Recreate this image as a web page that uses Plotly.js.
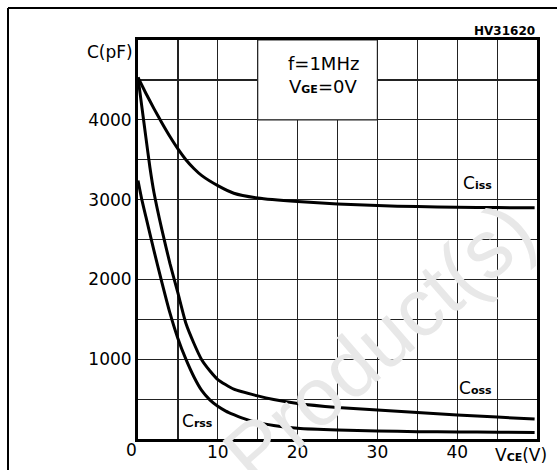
<!DOCTYPE html>
<html>
<head>
<meta charset="utf-8">
<script src="https://cdn.plot.ly/plotly-3.0.1.min.js"></script>
<style>
html,body{margin:0;padding:0;background:#fff;}
#chart{width:557px;height:470px;}
</style>
</head>
<body>
<div id="chart"></div>
<script>
// Data (VCE in V, capacitance in pF)
const cissV = [0, 1, 2, 3, 4, 5, 6, 7, 8, 10, 12, 15, 20, 25, 30, 35, 40, 45, 49.7];
const cissC = [4530, 4330, 4140, 3960, 3790, 3635, 3500, 3390, 3300, 3175, 3080, 3020, 2975, 2946, 2925, 2912, 2904, 2900, 2898];

const cossV = [0, 0.5, 1, 1.5, 2, 3, 4, 5, 6, 7, 8, 9, 10, 12, 15, 17, 20, 25, 30, 35, 40, 45, 49.7];
const cossC = [4530, 4150, 3770, 3400, 3090, 2620, 2200, 1830, 1450, 1200, 990, 855, 745, 625, 540, 495, 446, 396, 362, 333, 300, 275, 250];

const crssV = [0, 0.5, 1, 2, 3, 4, 5, 6, 7, 8, 9, 10, 11, 12, 13, 15, 17, 20, 25, 30, 35, 40, 45, 49.7];
const crssC = [3240, 2990, 2780, 2360, 1960, 1580, 1260, 1000, 780, 605, 490, 410, 350, 305, 265, 205, 170, 135, 112, 100, 92, 88, 85, 82];

const xTickVals = [0, 5, 10, 15, 20, 25, 30, 35, 40, 45, 50];
const xTickText = ['', '', '10', '', '20', '', '30', '', '40', '', ''];
const yTickVals = [0, 500, 1000, 1500, 2000, 2500, 3000, 3500, 4000, 4500, 5000];
const yTickText = ['', '', '1000', '', '2000', '', '3000', '', '4000', '', ''];

const FONT = 'DejaVu Sans, sans-serif';
const L = 138, R = 20, T = 40, B = 31;
const PW = 557 - L - R, PH = 470 - T - B;
const px = v => (v - L) / PW;
const py = v => (470 - B - v) / PH;

const lineStyle = {color: '#000', width: 3, shape: 'spline', smoothing: 0.5};
const traces = [
  {x: cissV, y: cissC, mode: 'lines', line: lineStyle, name: 'Ciss', hoverinfo: 'skip'},
  {x: cossV, y: cossC, mode: 'lines', line: lineStyle, name: 'Coss', hoverinfo: 'skip'},
  {x: crssV, y: crssC, mode: 'lines', line: lineStyle, name: 'Crss', hoverinfo: 'skip'}
];

const small = s => '<span style="font-size:11px;font-weight:bold">' + s + '</span>';

const layout = {
  width: 557, height: 470,
  margin: {l: L, r: R, t: T, b: B, pad: 0},
  paper_bgcolor: '#fff', plot_bgcolor: '#fff',
  showlegend: false,
  font: {family: FONT, size: 17, color: '#000'},
  xaxis: {
    range: [0, 50], tickvals: xTickVals, ticktext: xTickText,
    showgrid: true, gridcolor: '#222', gridwidth: 1.2,
    showline: true, linecolor: '#000', linewidth: 3, mirror: true,
    ticks: '', zeroline: false, ticklabelstandoff: -4,
    tickfont: {family: FONT, size: 17, color: '#000'}
  },
  yaxis: {
    range: [0, 5000], tickvals: yTickVals, ticktext: yTickText,
    showgrid: true, gridcolor: '#222', gridwidth: 1.2,
    showline: true, linecolor: '#000', linewidth: 3, mirror: true,
    ticks: '', zeroline: false, ticklabelstandoff: 0,
    tickfont: {family: FONT, size: 17, color: '#000'}
  },
  shapes: [
    {type: 'rect', xref: 'x', yref: 'y', x0: 15, x1: 30, y0: 4000, y1: 5000,
     fillcolor: '#fff', line: {color: '#222', width: 1.2}, layer: 'between'},
    {type: 'line', xref: 'paper', yref: 'paper', x0: px(8), x1: px(557), y0: py(8), y1: py(8),
     line: {color: '#000', width: 2}},
    {type: 'line', xref: 'paper', yref: 'paper', x0: px(8), x1: px(8), y0: py(8), y1: py(470),
     line: {color: '#000', width: 2}}
  ],
  annotations: [
    {xref: 'paper', yref: 'paper', x: px(378), y: py(342), xanchor: 'center', yanchor: 'middle',
     text: 'Product(s)', showarrow: false,
     textangle: -41, font: {family: 'Liberation Sans, Arial, sans-serif', size: 82, color: '#e8e8e8'}},
    {xref: 'paper', yref: 'paper', x: px(537), y: py(31), xanchor: 'right', yanchor: 'middle',
     text: '<b>HV31620</b>', showarrow: false, font: {family: FONT, size: 12, color: '#000'}},
    {xref: 'paper', yref: 'paper', x: px(135), y: py(52), xanchor: 'right', yanchor: 'middle',
     text: 'C(pF)', showarrow: false, font: {family: FONT, size: 17}},
    {xref: 'paper', yref: 'paper', x: px(131), y: py(450), xanchor: 'center', yanchor: 'middle',
     text: '0', showarrow: false, font: {family: FONT, size: 17}},
    {xref: 'paper', yref: 'paper', x: px(521), y: py(455), xanchor: 'center', yanchor: 'middle',
     text: 'V' + small('CE') + '(V)', showarrow: false, font: {family: FONT, size: 17}},
    {xref: 'paper', yref: 'paper', x: px(286), y: py(63), xanchor: 'left', yanchor: 'middle',
     text: 'f=1MHz', showarrow: false, font: {family: FONT, size: 18}},
    {xref: 'paper', yref: 'paper', x: px(287), y: py(86), xanchor: 'left', yanchor: 'middle',
     text: 'V' + small('GE') + '=0V', showarrow: false, font: {family: FONT, size: 18}},
    {xref: 'paper', yref: 'paper', x: px(477), y: py(183), xanchor: 'center', yanchor: 'middle',
     text: 'C' + small('iss'), showarrow: false, font: {family: FONT, size: 17}},
    {xref: 'paper', yref: 'paper', x: px(475), y: py(388), xanchor: 'center', yanchor: 'middle',
     text: 'C' + small('oss'), showarrow: false, font: {family: FONT, size: 17}},
    {xref: 'paper', yref: 'paper', x: px(197), y: py(421), xanchor: 'center', yanchor: 'middle',
     text: 'C' + small('rss'), showarrow: false, font: {family: FONT, size: 17}}
  ]
};

Plotly.newPlot('chart', traces, layout, {displayModeBar: false, staticPlot: true});
</script>
</body>
</html>
